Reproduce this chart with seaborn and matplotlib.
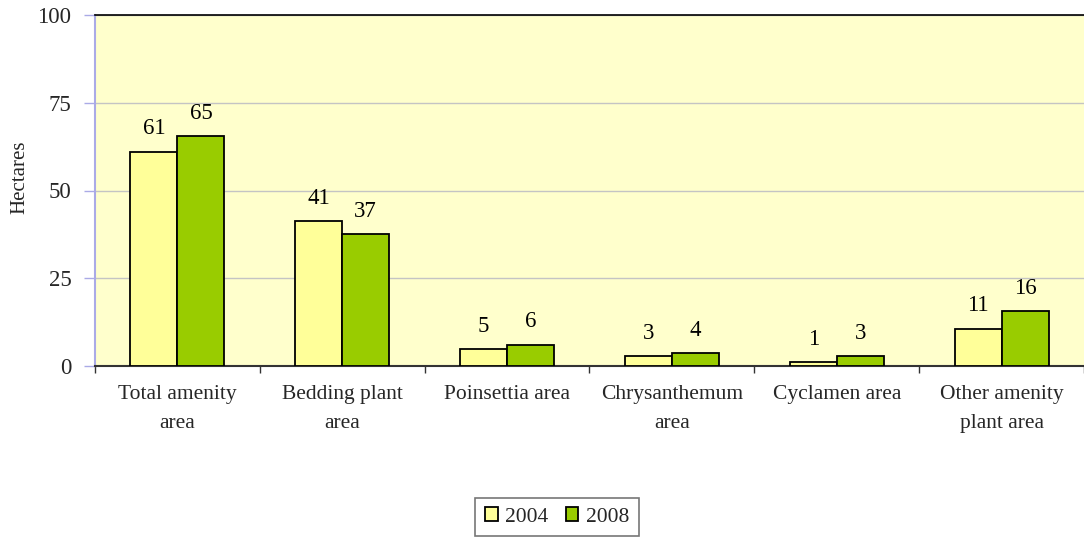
import matplotlib
matplotlib.use("Agg")
import matplotlib.pyplot as plt
import seaborn as sns
import pandas as pd
import numpy as np
from matplotlib.ticker import FixedLocator

categories = ["Total amenity\narea", "Bedding plant\narea", "Poinsettia area",
              "Chrysanthemum\narea", "Cyclamen area", "Other amenity\nplant area"]
years = ["2004", "2008"]
values_2004 = [61.0, 41.3, 4.8, 2.8, 1.1, 10.6]
values_2008 = [65.4, 37.6, 6.0, 3.7, 2.8, 15.6]
labels_2004 = ["61", "41", "5", "3", "1", "11"]
labels_2008 = ["65", "37", "6", "4", "3", "16"]
yticks = [0, 25, 50, 75, 100]

df = pd.DataFrame({
    "category": categories * 2,
    "year": [years[0]] * len(categories) + [years[1]] * len(categories),
    "value": values_2004 + values_2008,
})

sns.set_theme(style="white")
plt.rcParams["font.family"] = ["Liberation Serif", "DejaVu Serif"]

fig = plt.figure(figsize=(10.84, 5.42), dpi=100)
ax = fig.add_axes([95/1084, 1 - 366/542, 1 - 95/1084, (366 - 15)/542])
ax.set_facecolor("#FFFFCC")

palette = {"2004": "#FFFF99", "2008": "#99CC00"}
sns.barplot(data=df, x="category", y="value", hue="year", hue_order=years,
            order=categories, palette=palette, width=0.57, edgecolor="black",
            linewidth=1.3, saturation=1, ax=ax, legend=True, zorder=3)

for cont, labs in zip(ax.containers, [labels_2004, labels_2008]):
    ax.bar_label(cont, labels=labs, padding=9, fontsize=16.5, color="black")

ax.set_ylim(0, 100)
ax.set_xlim(-0.5, len(categories) - 0.5)
ax.set_yticks(yticks)
ax.set_yticklabels([str(t) for t in yticks], fontsize=16.5)
ax.yaxis.grid(True, color="#C4C4C4", linewidth=1, zorder=0)
ax.set_axisbelow(True)

ax.tick_params(axis="y", which="major", length=8, width=1, color="#AAAAE6",
               direction="out", pad=9, left=True)
ax.tick_params(axis="x", which="major", length=0, pad=14, labelsize=15.5)
ax.xaxis.set_minor_locator(FixedLocator(np.arange(-0.5, len(categories), 1.0)))
ax.tick_params(axis="x", which="minor", length=5, width=1, color="#333333",
               direction="out", bottom=True)
for lab in ax.get_xticklabels():
    lab.set_linespacing(1.65)

ax.set_xlabel("")
ax.set_ylabel("Hectares", fontsize=15)
ax.yaxis.set_label_coords(-0.0665, 0.538)

for side in ["top", "bottom", "left", "right"]:
    ax.spines[side].set_visible(True)
ax.spines["top"].set_color("black")
ax.spines["top"].set_linewidth(1.2)
ax.spines["bottom"].set_color("#333333")
ax.spines["bottom"].set_linewidth(1.5)
ax.spines["left"].set_color("#AAAAE6")
ax.spines["left"].set_linewidth(1.5)
ax.spines["right"].set_visible(False)

handles, labels = ax.get_legend_handles_labels()
ax.get_legend().remove()
leg = fig.legend(handles, labels, loc="center", bbox_to_anchor=(557/1084, 1 - 517/542),
                 ncol=2, frameon=True, fontsize=15.5, handlelength=0.6, handleheight=0.6,
                 handletextpad=0.33, columnspacing=0.8, borderpad=0.45,
                 fancybox=False, edgecolor="#555555")
leg.get_frame().set_linewidth(1.2)

fig.savefig("out.png", dpi=100)
